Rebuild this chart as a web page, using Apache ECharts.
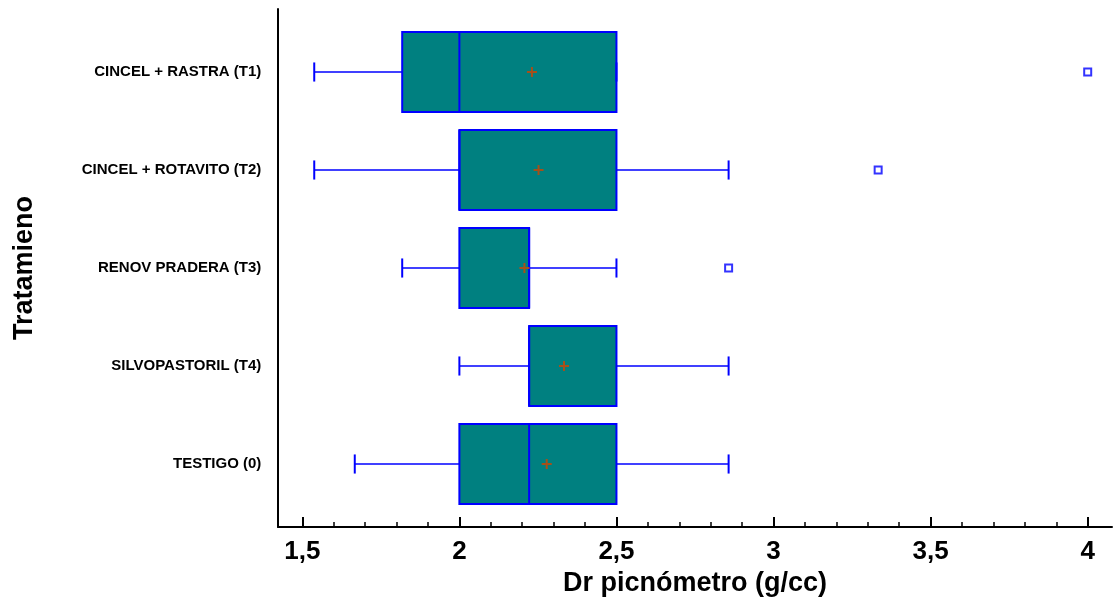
<!DOCTYPE html>
<html>
<head>
<meta charset="utf-8">
<script src="https://cdn.jsdelivr.net/npm/echarts@6/dist/echarts.min.js"></script>
<style>html,body{margin:0;padding:0;background:#fff;}#c{width:1113px;height:603px;}</style>
</head>
<body>
<div id="c"></div>
<script>
const categories = ['CINCEL + RASTRA (T1)', 'CINCEL + ROTAVITO (T2)', 'RENOV PRADERA (T3)', 'SILVOPASTORIL (T4)', 'TESTIGO (0)'];
const whiskerLow  = [1.538, 1.538, 1.818, 2.0,   1.667];
const q1Values    = [1.818, 2.0,   2.0,   2.222, 2.0];
const medians     = [2.0,   2.0,   2.222, 2.222, 2.222];
const q3Values    = [2.5,   2.5,   2.222, 2.5,   2.5];
const whiskerHigh = [2.5,   2.857, 2.5,   2.857, 2.857];
const means       = [2.231, 2.252, 2.207, 2.333, 2.278];
const outlierValues = [4.0, 3.333, 2.857];
const outlierCats   = ['CINCEL + RASTRA (T1)', 'CINCEL + ROTAVITO (T2)', 'RENOV PRADERA (T3)'];
const xTickMin = 1.5, xTickMax = 4.0, xTickStep = 0.5;
const xTitle = 'Dr picnómetro (g/cc)';
const yTitle = 'Tratamieno';

const FONT = 'Liberation Sans, Arial, Helvetica, sans-serif';
const BLUE = '#0000FF';
const TEAL = '#008080';
const MEANC = '#A5501A';

const boxData = categories.map((c, i) => [i, whiskerLow[i], q1Values[i], medians[i], q3Values[i], whiskerHigh[i]]);
const meanData = categories.map((c, i) => [means[i], i]);
const outlierData = outlierValues.map((v, i) => [v, categories.indexOf(outlierCats[i])]);

const chart = echarts.init(document.getElementById('c'), null, {renderer: 'canvas'});

function renderBox(params, api) {
  const cat = api.value(0);
  const band = api.size([0, 1])[1];
  const h = band * 0.815;
  const capH = band * 0.195;
  const px = v => api.coord([v, cat])[0];
  const yc = api.coord([api.value(2), cat])[1];
  const xMin = px(api.value(1)), xQ1 = px(api.value(2)), xMed = px(api.value(3)), xQ3 = px(api.value(4)), xMax = px(api.value(5));
  const ls = {stroke: BLUE, lineWidth: 1.6};
  return {
    type: 'group',
    children: [
      {type: 'line', shape: {x1: xMin, y1: yc, x2: xQ1, y2: yc}, style: ls},
      {type: 'line', shape: {x1: xQ3, y1: yc, x2: xMax, y2: yc}, style: ls},
      {type: 'rect', shape: {x: xQ1, y: yc - h / 2, width: xQ3 - xQ1, height: h}, style: {fill: TEAL, stroke: BLUE, lineWidth: 2}},
      {type: 'line', shape: {x1: xMed, y1: yc - h / 2, x2: xMed, y2: yc + h / 2}, style: {stroke: BLUE, lineWidth: 2}},
      {type: 'line', shape: {x1: xMin, y1: yc - capH / 2, x2: xMin, y2: yc + capH / 2}, style: {stroke: BLUE, lineWidth: 2}},
      {type: 'line', shape: {x1: xMax, y1: yc - capH / 2, x2: xMax, y2: yc + capH / 2}, style: {stroke: BLUE, lineWidth: 2}}
    ]
  };
}

function renderMean(params, api) {
  const p = api.coord([api.value(0), api.value(1)]);
  const s = 5;
  const st = {stroke: MEANC, lineWidth: 2};
  return {
    type: 'group',
    children: [
      {type: 'line', shape: {x1: p[0] - s, y1: p[1], x2: p[0] + s, y2: p[1]}, style: st},
      {type: 'line', shape: {x1: p[0], y1: p[1] - s, x2: p[0], y2: p[1] + s}, style: st}
    ]
  };
}

const option = {
  animation: false,
  backgroundColor: '#fff',
  grid: [
    {left: 302.3, right: 25.3, top: 9, bottom: 76},
    {left: 278, right: 1, top: 9, bottom: 76},
    {left: 302.3, right: 25.3, top: 23, bottom: 90}
  ],
  xAxis: [
    {
      gridIndex: 0, type: 'value', min: xTickMin, max: xTickMax, interval: xTickStep,
      axisLine: {show: false},
      axisTick: {show: true, inside: true, length: 10, lineStyle: {color: '#000', width: 2}},
      minorTick: {show: true, splitNumber: 5, length: 5, lineStyle: {color: '#000', width: 1.5}},
      splitLine: {show: false},
      axisLabel: {show: true, margin: 12, color: '#000', fontFamily: FONT, fontWeight: 'bold', fontSize: 26,
        formatter: v => String(+v.toFixed(1)).replace('.', ',')}
    },
    {
      gridIndex: 1, type: 'value', min: 0, max: 1,
      axisLine: {show: true, lineStyle: {color: '#000', width: 2}},
      axisTick: {show: false}, axisLabel: {show: false}, splitLine: {show: false},
      name: xTitle, nameLocation: 'middle', nameGap: 43,
      nameTextStyle: {color: '#000', fontFamily: FONT, fontWeight: 'bold', fontSize: 27}
    },
    {
      gridIndex: 2, type: 'value', min: xTickMin, max: xTickMax, show: false
    }
  ],
  yAxis: [
    {gridIndex: 0, type: 'value', show: false},
    {
      gridIndex: 1, type: 'value', min: 0, max: 1,
      axisLine: {show: true, lineStyle: {color: '#000', width: 2}},
      axisTick: {show: false}, axisLabel: {show: false}, splitLine: {show: false},
      name: yTitle, nameLocation: 'middle', nameRotate: 90, nameGap: 240,
      nameTextStyle: {color: '#000', fontFamily: FONT, fontWeight: 'bold', fontSize: 27}
    },
    {
      gridIndex: 2, type: 'category', data: categories, inverse: true,
      axisLine: {show: false}, axisTick: {show: false}, splitLine: {show: false},
      axisLabel: {show: true, margin: 41, color: '#000', fontFamily: FONT, fontWeight: 'bold', fontSize: 15}
    }
  ],
  series: [
    {type: 'custom', xAxisIndex: 2, yAxisIndex: 2, renderItem: renderBox, data: boxData,
      encode: {x: [1, 2, 3, 4, 5], y: 0}, clip: false},
    {type: 'custom', xAxisIndex: 2, yAxisIndex: 2, renderItem: renderMean, data: meanData,
      encode: {x: 0, y: 1}, clip: false, z: 5},
    {type: 'scatter', xAxisIndex: 2, yAxisIndex: 2, data: outlierData, symbol: 'rect', symbolSize: 7,
      itemStyle: {color: '#fff', borderColor: BLUE, borderWidth: 2}, clip: false, z: 5}
  ]
};
chart.setOption(option);
</script>
</body>
</html>
